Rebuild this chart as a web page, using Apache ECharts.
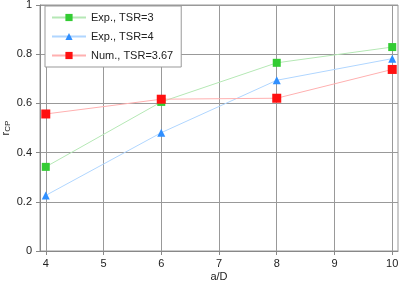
<!DOCTYPE html>
<html><head><meta charset="utf-8">
<script src="https://cdn.jsdelivr.net/npm/echarts@6/dist/echarts.min.js"></script>
<style>html,body{margin:0;padding:0;background:#fff}#c{width:399px;height:281px}</style>
</head><body><div id="c"></div>
<script>
const xValues = [4, 6, 8, 10];
const xTicks = [4, 5, 6, 7, 8, 9, 10];
const exp3 = [0.342, 0.606, 0.765, 0.829];
const exp4 = [0.226, 0.481, 0.694, 0.782];
const num367 = [0.557, 0.617, 0.621, 0.738];
const seriesNames = ['Exp., TSR=3', 'Exp., TSR=4', 'Num., TSR=3.67'];

const pairs = arr => xValues.map((x, i) => [x, arr[i]]);
const font = 'Liberation Sans, Arial, sans-serif';
const chart = echarts.init(document.getElementById('c'));
chart.setOption({
  animation: false,
  textStyle: {fontFamily: font},
  grid: {left: 40, right: 1, top: 5, bottom: 30, show: true, borderColor: '#999', borderWidth: 1,
         containLabel: false, outerBoundsMode: 'none'},
  xAxis: {
    type: 'value', min: 3.9, max: 10.1,
    name: 'a/D', nameLocation: 'middle', nameGap: 20, nameMoveOverlap: false,
    nameTextStyle: {fontSize: 11, color: '#222', fontFamily: font},
    axisLine: {show: true, lineStyle: {color: '#888'}},
    axisTick: {show: true, length: 4, customValues: xTicks, lineStyle: {color: '#888'}},
    axisLabel: {customValues: xTicks, fontSize: 11, color: '#222', margin: 7, fontFamily: font},
    splitLine: {show: true, lineStyle: {color: '#999', width: 1}}
  },
  yAxis: {
    type: 'value', min: 0, max: 1, interval: 0.2,
    name: '{r|r}{s|CP}', nameLocation: 'middle', nameGap: 28, nameMoveOverlap: false,
    nameTextStyle: {rich: {r: {fontSize: 11, color: '#222', fontFamily: font}, s: {fontSize: 8, color: '#222', verticalAlign: 'bottom', padding: [4, 0, 0, 0], fontFamily: font}}},
    axisLine: {show: true, lineStyle: {color: '#888'}},
    axisTick: {show: true, length: 4, lineStyle: {color: '#888'}},
    axisLabel: {fontSize: 11, color: '#222', margin: 8, fontFamily: font, formatter: v => String(+v.toFixed(1))},
    splitLine: {show: true, lineStyle: {color: '#999', width: 1}}
  },
  legend: {
    orient: 'vertical', left: 45, top: 6,
    backgroundColor: '#fff', borderColor: '#999', borderWidth: 1,
    padding: [6, 8, 6, 6], itemGap: 8, itemWidth: 34, itemHeight: 9,
    textStyle: {fontSize: 11, color: '#222', fontFamily: font},
    data: seriesNames
  },
  series: [
    {name: seriesNames[0], type: 'line', data: pairs(exp3), symbol: 'rect', symbolSize: 8,
     itemStyle: {color: '#33cc33'}, lineStyle: {color: '#b5e8b5', width: 1}},
    {name: seriesNames[1], type: 'line', data: pairs(exp4), symbol: 'triangle', symbolSize: 8,
     itemStyle: {color: '#2f8fff'}, lineStyle: {color: '#b0d6ff', width: 1}},
    {name: seriesNames[2], type: 'line', data: pairs(num367), symbol: 'rect', symbolSize: 9,
     itemStyle: {color: '#ff1010'}, lineStyle: {color: '#ffb0b0', width: 1}}
  ]
});
</script></body></html>
